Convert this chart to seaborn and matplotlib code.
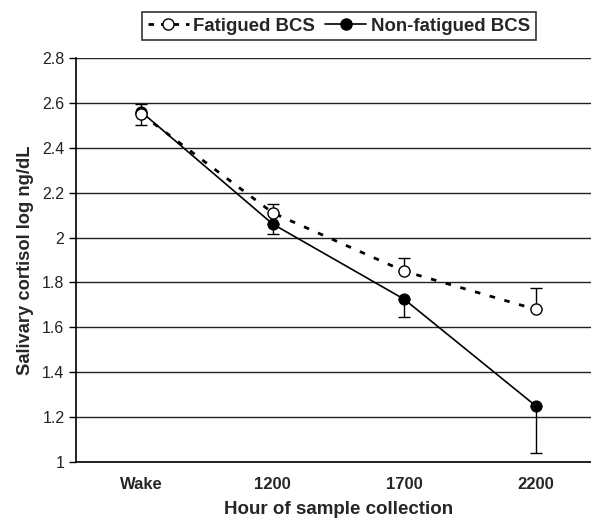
import matplotlib
matplotlib.use("Agg")
import matplotlib.pyplot as plt
import seaborn as sns
import pandas as pd
from matplotlib.lines import Line2D

hours = ["Wake", "1200", "1700", "2200"]
fatigued = [2.55, 2.11, 1.85, 1.68]
fatigued_err_lo = [0.05, 0.0, 0.0, 0.0]
fatigued_err_hi = [0.0, 0.04, 0.06, 0.095]
nonfatigued = [2.56, 2.06, 1.725, 1.25]
nonfatigued_err_lo = [0.0, 0.045, 0.08, 0.21]
nonfatigued_err_hi = [0.035, 0.0, 0.0, 0.0]
yticks = [1, 1.2, 1.4, 1.6, 1.8, 2, 2.2, 2.4, 2.6, 2.8]
ytick_labels = ["1", "1.2", "1.4", "1.6", "1.8", "2", "2.2", "2.4", "2.6", "2.8"]

sns.set_style("white")
plt.rcParams['font.family'] = ['Liberation Sans', 'DejaVu Sans']

df = pd.DataFrame({
    "hour": hours * 2,
    "value": fatigued + nonfatigued,
    "group": ["Fatigued BCS"] * 4 + ["Non-fatigued BCS"] * 4,
})

fig = plt.figure(figsize=(5.91, 5.20), dpi=100)
ax = fig.add_axes([0.1278, 0.1115, 0.8900, 0.777])

for y in yticks:
    ax.axhline(y, color="#222222", lw=1.0, zorder=0)

sub_f = df[df.group == "Fatigued BCS"]
sub_n = df[df.group == "Non-fatigued BCS"]
sns.lineplot(data=sub_n, x="hour", y="value", ax=ax, color="black", lw=1.2,
             marker="o", markersize=8, markerfacecolor="black", markeredgecolor="black",
             sort=False, zorder=3)
sns.lineplot(data=sub_f, x="hour", y="value", ax=ax, color="black", lw=2.0,
             dashes=False, linestyle=(0, (2.0, 3.5)), marker="o", markersize=8,
             markerfacecolor="white", markeredgecolor="black", markeredgewidth=1.0,
             sort=False, zorder=4)

pos = list(range(len(hours)))
ax.errorbar(pos, fatigued, yerr=[fatigued_err_lo, fatigued_err_hi], fmt="none",
            ecolor="black", elinewidth=1.0, capsize=4, capthick=1.0, zorder=2)
ax.errorbar(pos, nonfatigued, yerr=[nonfatigued_err_lo, nonfatigued_err_hi], fmt="none",
            ecolor="black", elinewidth=1.0, capsize=4, capthick=1.0, zorder=2)

ax.set_xlim(-0.5, 3.5)
ax.set_ylim(1, 2.8)
ax.set_yticks(yticks)
ax.set_yticklabels(ytick_labels, fontsize=11.5, color="#222222")
ax.set_xticks(pos)
ax.set_xticklabels(hours, fontsize=12, fontweight="bold")
ax.set_xticks([0.5, 1.5, 2.5], minor=True)
ax.tick_params(axis="x", which="major", length=0, pad=11)
ax.tick_params(axis="x", which="minor", length=5, width=1, color="black", direction="out")
ax.tick_params(axis="y", length=5, width=1, color="black", direction="out", left=True, pad=3)

for s in ["top", "right"]:
    ax.spines[s].set_visible(False)
for s in ["left", "bottom"]:
    ax.spines[s].set_color("black")
    ax.spines[s].set_linewidth(1.2)

ax.set_xlabel("Hour of sample collection", fontsize=13.5, fontweight="bold", labelpad=6)
ax.set_ylabel("Salivary cortisol log ng/dL", fontsize=13.2, fontweight="bold", labelpad=6)

handles = [
    Line2D([], [], color="black", lw=2.0, linestyle=(0, (2.0, 2.5)), marker="o",
           markersize=8, markerfacecolor="white", markeredgecolor="black"),
    Line2D([], [], color="black", lw=1.2, marker="o", markersize=8,
           markerfacecolor="black", markeredgecolor="black"),
]
leg = fig.legend(handles, ["Fatigued BCS", "Non-fatigued BCS"], loc="center",
                 bbox_to_anchor=(339 / 591, 1 - 26 / 520), ncol=2, frameon=True,
                 fancybox=False, edgecolor="black", handlelength=2.2, columnspacing=0.55,
                 handletextpad=0.25, borderpad=0.3, borderaxespad=0.2,
                 prop={"weight": "bold", "size": 13.4})
leg.get_frame().set_linewidth(1.2)

fig.savefig("out.png", dpi=100)
